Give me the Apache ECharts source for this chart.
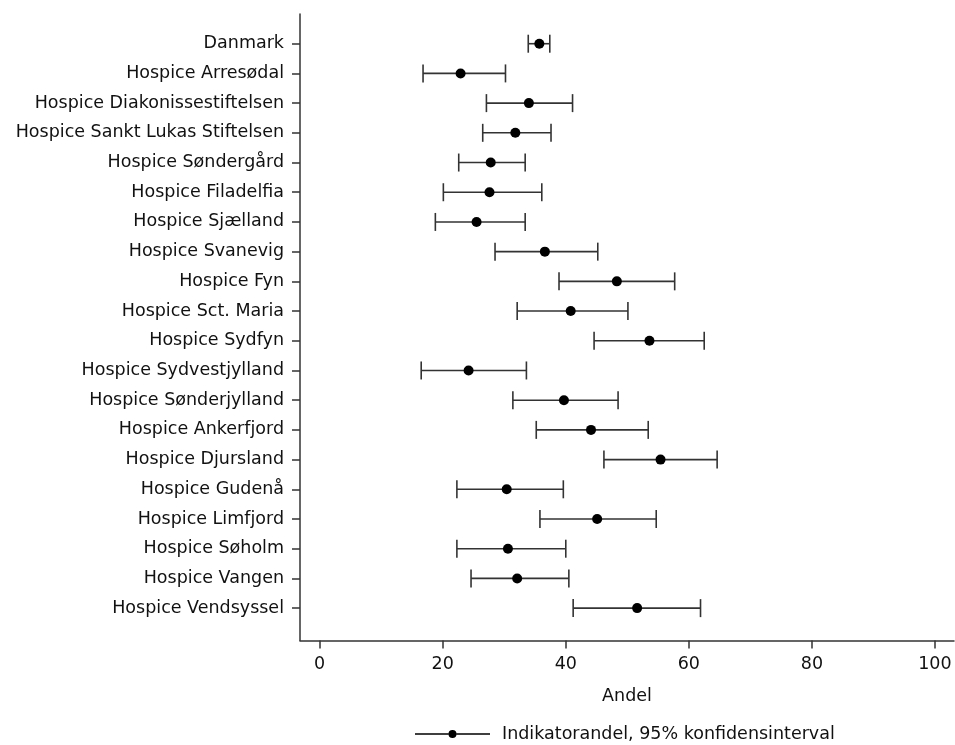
<!DOCTYPE html>
<html>
<head>
<meta charset="utf-8">
<script src="https://cdn.jsdelivr.net/npm/echarts@6/dist/echarts.min.js"></script>
<style>
  html, body { margin: 0; padding: 0; background: #ffffff; }
  #chart { width: 955px; height: 745px; }
</style>
</head>
<body>
<div id="chart"></div>
<script>
// Hospice indicator shares with 95% confidence intervals
const categories = [
  "Danmark",
  "Hospice Arresødal",
  "Hospice Diakonissestiftelsen",
  "Hospice Sankt Lukas Stiftelsen",
  "Hospice Søndergård",
  "Hospice Filadelfia",
  "Hospice Sjælland",
  "Hospice Svanevig",
  "Hospice Fyn",
  "Hospice Sct. Maria",
  "Hospice Sydfyn",
  "Hospice Sydvestjylland",
  "Hospice Sønderjylland",
  "Hospice Ankerfjord",
  "Hospice Djursland",
  "Hospice Gudenå",
  "Hospice Limfjord",
  "Hospice Søholm",
  "Hospice Vangen",
  "Hospice Vendsyssel"
];
const share = [35.7, 22.9, 34.0, 31.8, 27.8, 27.6, 25.5, 36.6, 48.3, 40.8,
               53.6, 24.2, 39.7, 44.1, 55.4, 30.4, 45.1, 30.6, 32.1, 51.6];
const lower = [33.9, 16.8, 27.1, 26.5, 22.6, 20.1, 18.8, 28.5, 38.9, 32.1,
               44.6, 16.5, 31.4, 35.2, 46.2, 22.3, 35.8, 22.3, 24.6, 41.2];
const upper = [37.4, 30.2, 41.1, 37.6, 33.4, 36.1, 33.4, 45.2, 57.7, 50.1,
               62.5, 33.6, 48.5, 53.4, 64.6, 39.6, 54.7, 40.0, 40.5, 61.9];
const xTicks = [0, 20, 40, 60, 80, 100];
const xTitle = "Andel";
const legendLabel = "Indikatorandel, 95% konfidensinterval";

const FONT = "DejaVu Sans";
const FS = 17.5;
const INK = "#111111";
const LINE = "#333333";

// rows are placed at 1..N from the top
const rowPos = categories.map((_, i) => i + 1);
const ciData = categories.map((_, i) => [lower[i], upper[i], rowPos[i]]);
const dotData = categories.map((_, i) => [share[i], rowPos[i]]);

const chart = echarts.init(document.getElementById('chart'), null, { renderer: 'canvas' });

function renderCI(params, api) {
  const y = api.value(2);
  const a = api.coord([api.value(0), y]);
  const b = api.coord([api.value(1), y]);
  const h = 9;
  const style = { stroke: LINE, lineWidth: 1.6, fill: null };
  return {
    type: 'group',
    children: [
      { type: 'line', shape: { x1: a[0], y1: a[1], x2: b[0], y2: b[1] }, style },
      { type: 'line', shape: { x1: a[0], y1: a[1] - h, x2: a[0], y2: a[1] + h }, style },
      { type: 'line', shape: { x1: b[0], y1: b[1] - h, x2: b[0], y2: b[1] + h }, style }
    ]
  };
}

// legend key: a horizontal line with a dot in the middle
const legendIcon = 'path://M0,3.7h33.5v1.6h-33.5z M41.5,3.7h33.5v1.6h-33.5z M33.5,4.5a4,4 0 1,1 8,0a4,4 0 1,1 -8,0z';

chart.setOption({
  animation: false,
  backgroundColor: '#ffffff',
  textStyle: { fontFamily: FONT, color: INK },
  grid: { left: 300, right: 1, top: 14, bottom: 104.5, containLabel: false },
  legend: {
    data: [{ name: legendLabel, icon: legendIcon }],
    left: 415,
    top: 725,
    padding: 0,
    itemWidth: 75,
    itemHeight: 8,
    itemGap: 10,
    selectedMode: false,
    textStyle: { fontFamily: FONT, fontSize: FS, color: INK, padding: [0, 0, 0, 7] },
    itemStyle: { color: '#000000', opacity: 1 }
  },
  xAxis: {
    type: 'value',
    min: -3.2,
    max: 103.1,
    name: xTitle,
    nameLocation: 'middle',
    nameGap: 47,
    nameTextStyle: { fontFamily: FONT, fontSize: FS, color: INK },
    splitLine: { show: false },
    axisLine: { show: true, onZero: false, lineStyle: { color: LINE, width: 1.5 } },
    axisTick: { show: true, length: 8, customValues: xTicks, lineStyle: { color: LINE, width: 1.5 } },
    axisLabel: { customValues: xTicks, fontFamily: FONT, fontSize: FS, color: INK, margin: 15 }
  },
  yAxis: {
    type: 'value',
    inverse: true,
    min: 0,
    max: 21.09,
    splitLine: { show: false },
    axisLine: { show: true, onZero: false, lineStyle: { color: LINE, width: 1.5 } },
    axisTick: { show: true, length: 8, customValues: rowPos, lineStyle: { color: LINE, width: 1.5 } },
    axisLabel: {
      customValues: rowPos,
      fontFamily: FONT, fontSize: FS, color: INK, margin: 16,
      formatter: (v) => categories[Math.round(v) - 1] || ''
    }
  },
  series: [
    {
      type: 'custom',
      name: legendLabel,
      renderItem: renderCI,
      encode: { x: [0, 1], y: 2 },
      data: ciData,
      silent: true,
      z: 2
    },
    {
      type: 'scatter',
      name: legendLabel,
      data: dotData,
      symbol: 'circle',
      symbolSize: 10,
      itemStyle: { color: '#000000', opacity: 1 },
      silent: true,
      z: 3
    }
  ]
});
</script>
</body>
</html>
